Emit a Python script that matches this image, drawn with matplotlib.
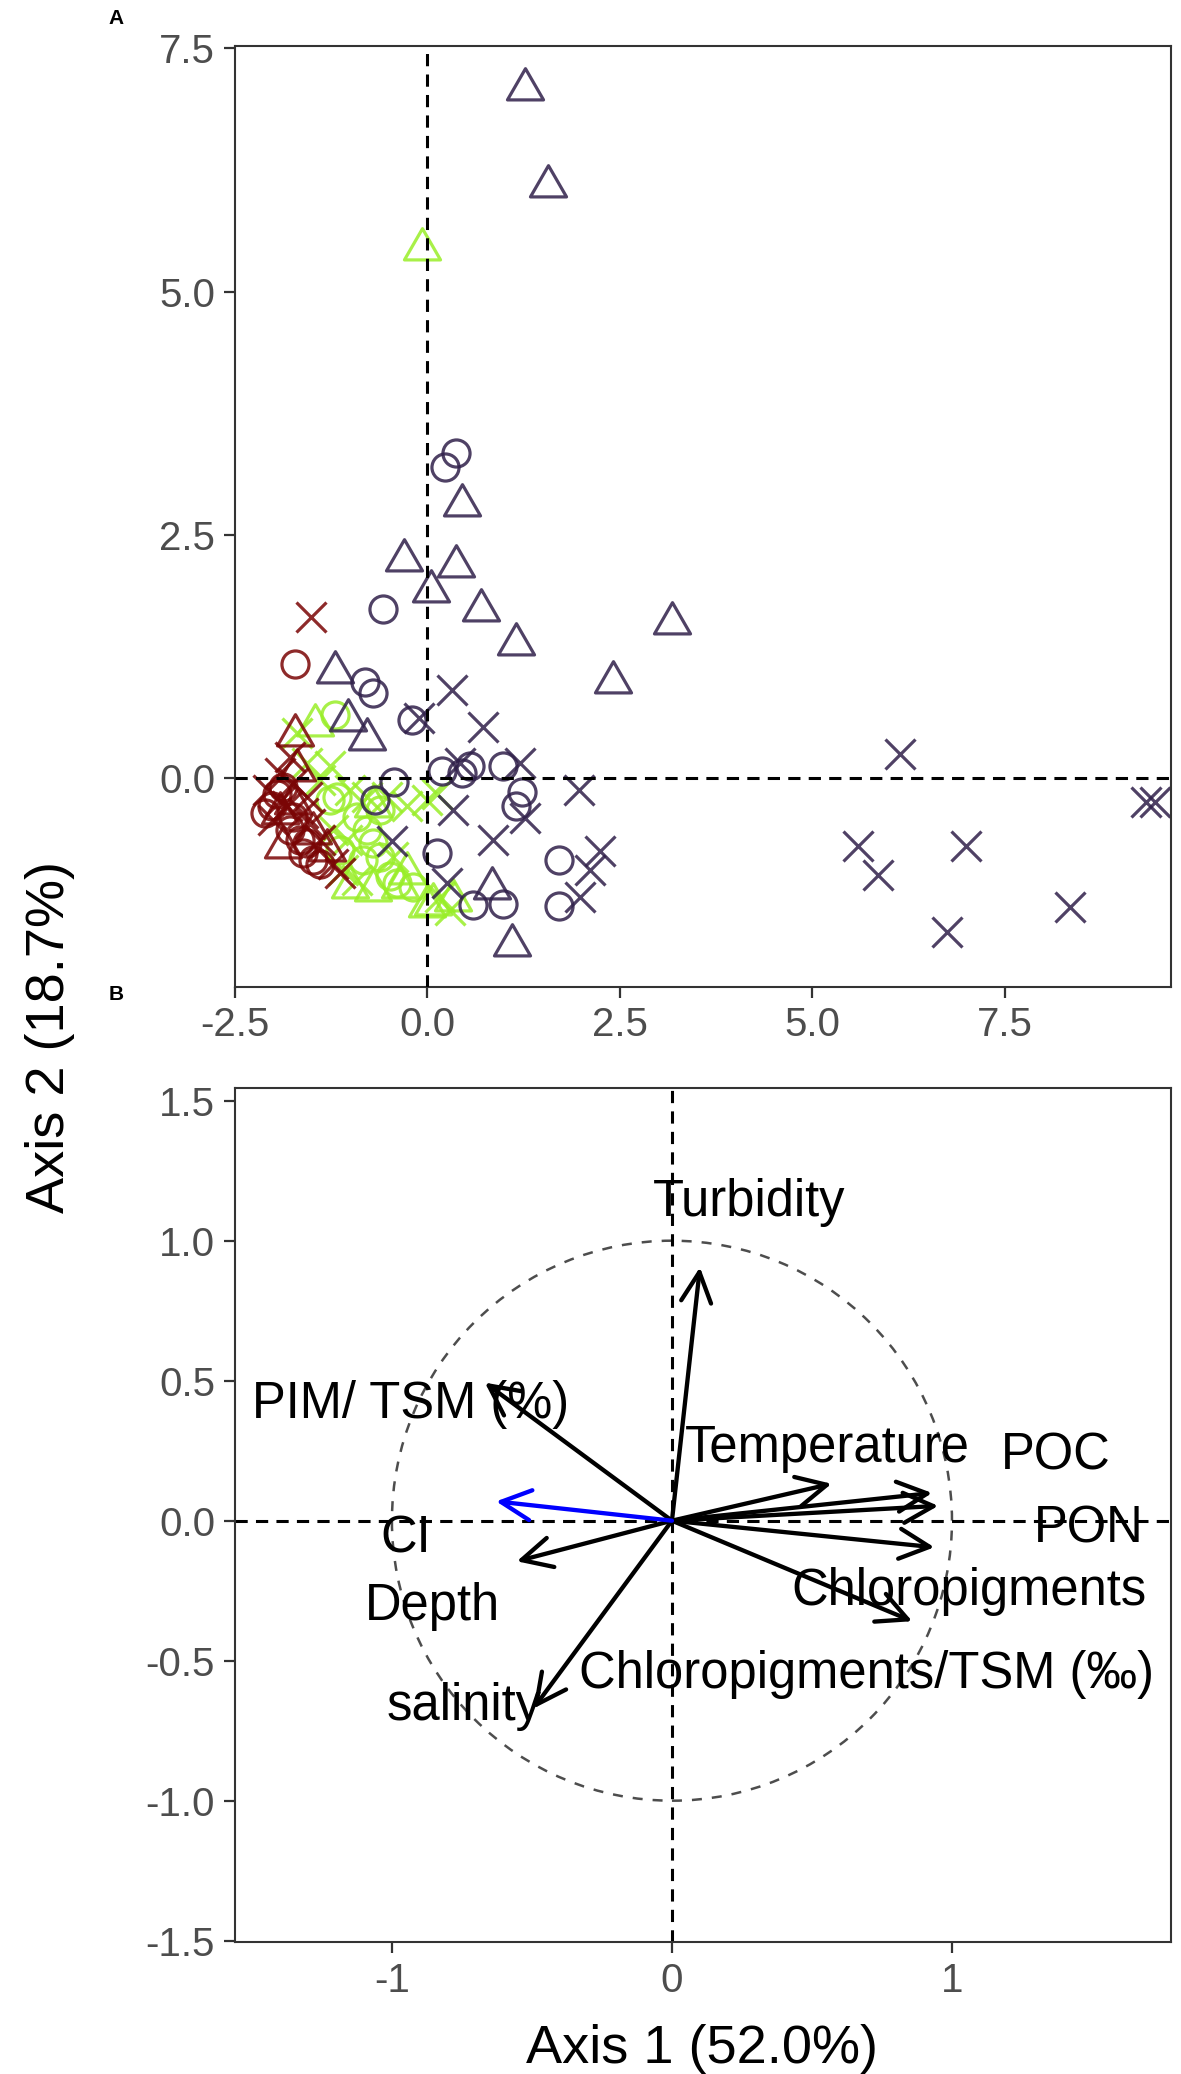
import matplotlib
matplotlib.use('Agg')
import matplotlib.pyplot as plt
from matplotlib.path import Path
from matplotlib.patches import Circle

plt.rcParams['font.family'] = ['Liberation Sans', 'DejaVu Sans']
plt.rcParams['axes.unicode_minus'] = False

# ---- panel A: sample scores (axis 1, axis 2) ----
# dark purple group
dark_tri_x = [1.27, 1.57, 0.46, -0.30, 0.38, 0.05, 0.70, 1.16, 3.18, 2.41, -1.20, -1.03, -0.78, 0.84, 1.10]
dark_tri_y = [7.08, 6.08, 2.81, 2.24, 2.18, 1.92, 1.73, 1.38, 1.59, 0.99, 1.09, 0.60, 0.40, -1.13, -1.72]
dark_circ_x = [0.38, 0.23, -0.57, -0.81, -0.70, -0.19, -0.43, -0.68, 0.19, 0.45, 0.56, 0.99, 1.23, 1.16,
               0.13, 0.60, 0.99, 1.71, 1.71]
dark_circ_y = [3.34, 3.20, 1.74, 0.99, 0.87, 0.60, -0.04, -0.23, 0.07, 0.05, 0.12, 0.12, -0.14, -0.29,
               -0.77, -1.30, -1.29, -0.84, -1.32]
dark_x_x = [0.33, 0.72, -0.11, 0.43, 1.21, 1.97, 0.34, 1.27, 0.86, -0.46, 0.26, 2.25, 2.12, 1.99,
            6.14, 5.60, 5.85, 6.75, 7.00, 8.35, 9.33, 9.45]
dark_x_y = [0.90, 0.52, 0.62, 0.15, 0.15, -0.12, -0.33, -0.41, -0.64, -0.65, -1.08, -0.75, -0.95, -1.22,
            0.25, -0.70, -1.00, -1.58, -0.70, -1.33, -0.25, -0.25]

# dark red group
red_tri_x = [-1.71, -1.91, -1.87, -1.30, -1.69, -1.48, -1.74]
red_tri_y = [0.44, -0.36, -0.71, -0.74, 0.08, -0.57, -0.26]
red_circ_x = [-1.71, -1.95, -2.02, -1.74, -1.61, -1.48, -1.65, -1.39, -2.10, -1.87, -1.78, -1.56]
red_circ_y = [1.17, -0.16, -0.29, -0.40, -0.77, -0.84, -0.64, -0.88, -0.36, -0.09, -0.53, -0.67]
red_x_x = [-1.51, -1.78, -1.91, -1.74, -1.82, -1.56, -1.39, -1.22, -1.13, -2.00, -2.06, -1.52, -1.61, -1.91]
red_x_y = [1.66, 0.22, 0.05, -0.05, -0.29, -0.19, -0.64, -0.88, -0.98, -0.43, -0.12, -0.47, -0.36, -0.24]

# light green group
green_tri_x = [-0.06, -1.45, -0.70, -1.00, -0.70, -0.26, 0.08, 0.34, 0.00, -0.35]
green_tri_y = [5.44, 0.55, -0.29, -1.12, -1.15, -0.98, -1.29, -1.25, -1.32, -1.12]
green_circ_x = [-1.19, -1.17, -0.91, -0.61, -0.78, -0.70, -0.83, -1.13, -0.48, -0.18, -0.61, -0.39, -1.26]
green_circ_y = [0.65, -0.19, -0.40, -0.33, -0.53, -0.67, -0.84, -0.74, -1.01, -1.12, -0.81, -1.08, -0.23]
green_x_x = [-1.69, -1.26, -1.56, -1.39, -1.00, -0.78, -0.52, -0.26, 0.00, -1.04, -1.22, -0.91, 0.17,
             0.30, -0.44, -1.09, 0.13]
green_x_y = [0.46, 0.12, 0.15, -0.02, -0.12, -0.19, -0.19, -0.29, -0.23, -0.64, -0.53, -1.05, -1.22,
             -1.36, -0.81, -0.95, -0.16]

# ---- panel B: variable loadings ----
var_names = ['Turbidity', 'PIM/ TSM (%)', 'Temperature', 'POC', 'PON', 'Chloropigments',
             'Chloropigments/TSM (‰)', 'Depth', 'salinity']
var_x = [0.10, -0.668, 0.570, 0.929, 0.951, 0.937, 0.858, -0.554, -0.495]
var_y = [0.905, 0.493, 0.132, 0.099, 0.053, -0.095, -0.359, -0.145, -0.671]
sup_name = 'CI'
sup_x = -0.628
sup_y = 0.069

# label anchors (centre x, baseline y)
label_text = ['Turbidity', 'PIM/ TSM (%)', 'Temperature', 'POC', 'PON', 'CI', 'Depth',
              'Chloropigments', 'Chloropigments/TSM (‰)', 'salinity']
label_x = [0.275, -0.935, 0.554, 1.37, 1.49, -0.95, -0.855, 1.06, 0.696, -0.743]
label_y = [1.089, 0.365, 0.209, 0.184, -0.079, -0.115, -0.355, -0.301, -0.597, -0.712]

dark_col = '#30204A'
red_col = '#7A0505'
green_col = '#99EE28'

tri = Path([(0, 1), (0.866, -0.5), (-0.866, -0.5), (0, 1)],
           [Path.MOVETO, Path.LINETO, Path.LINETO, Path.CLOSEPOLY])

fig = plt.figure(figsize=(11.81, 20.74), dpi=100)
axA = fig.add_axes([0.1986, 0.5241, 0.7929, 0.4537])
axB = fig.add_axes([0.1986, 0.0636, 0.7929, 0.4119])

dash = (0, (4, 2.7))


def pts(ax, x, y, marker, col, ms):
    ax.plot(x, y, ls='none', marker=marker, ms=ms, mfc='none', mec=col, mew=2.3, alpha=0.85, zorder=2)


for col, (tx, ty, cx, cy, xx, xy) in [
        (green_col, (green_tri_x, green_tri_y, green_circ_x, green_circ_y, green_x_x, green_x_y)),
        (red_col, (red_tri_x, red_tri_y, red_circ_x, red_circ_y, red_x_x, red_x_y)),
        (dark_col, (dark_tri_x, dark_tri_y, dark_circ_x, dark_circ_y, dark_x_x, dark_x_y))]:
    pts(axA, tx, ty, tri, col, 30)
    pts(axA, cx, cy, 'o', col, 19.5)
    pts(axA, xx, xy, 'x', col, 21.5)

axA.axhline(0, color='black', lw=2.2, ls=dash, zorder=3)
axA.axvline(0, color='black', lw=2.2, ls=dash, zorder=3)
axA.set_xlim(-2.5, 9.66)
axA.set_ylim(-2.148, 7.523)
axA.set_xticks([-2.5, 0, 2.5, 5, 7.5])
axA.set_xticklabels(['-2.5', '0.0', '2.5', '5.0', '7.5'])
axA.set_yticks([0, 2.5, 5, 7.5])
axA.set_yticklabels(['0.0', '2.5', '5.0', '7.5'])

# panel B
axB.add_patch(Circle((0, 0), 1, fill=False, ec='#4D4D4D', lw=1.8, ls=(0, (4, 4)), zorder=1))
axB.axhline(0, color='black', lw=2.2, ls=dash, zorder=1)
axB.axvline(0, color='black', lw=2.2, ls=dash, zorder=1)
astyle = '->,head_length=0.6,head_width=0.3'
for vx, vy in zip(var_x, var_y):
    axB.annotate('', xy=(vx, vy), xytext=(0, 0),
                 arrowprops=dict(arrowstyle=astyle, lw=3.1, color='black', shrinkA=0, shrinkB=0,
                                 mutation_scale=36), zorder=3)
axB.annotate('', xy=(sup_x, sup_y), xytext=(0, 0),
             arrowprops=dict(arrowstyle=astyle, lw=3.1, color='#0000FF', shrinkA=0, shrinkB=0,
                             mutation_scale=36), zorder=3)
for t, lx, ly in zip(label_text, label_x, label_y):
    axB.text(lx, ly, t, ha='center', va='baseline', fontsize=36.5, color='black', zorder=4)

axB.set_xlim(-1.562, 1.782)
axB.set_ylim(-1.505, 1.546)
axB.set_xticks([-1, 0, 1])
axB.set_xticklabels(['-1', '0', '1'])
axB.set_yticks([-1.5, -1.0, -0.5, 0, 0.5, 1.0, 1.5])
axB.set_yticklabels(['-1.5', '-1.0', '-0.5', '0.0', '0.5', '1.0', '1.5'])

for ax in (axA, axB):
    for s in ax.spines.values():
        s.set_color('#333333')
        s.set_linewidth(1.5)
    ax.tick_params(direction='out', length=8, width=1.6, color='#333333',
                   labelsize=29, labelcolor='#4D4D4D', pad=6)

fig.text(0.5945, 0.0053, 'Axis 1 (52.0%)', ha='center', va='baseline', fontsize=39)
fig.text(0.042, 0.5, 'Axis 2 (18.7%)', ha='center', va='center', rotation=90, fontsize=39)
fig.text(116 / 1181, 1 - 18 / 2074, 'A', ha='center', va='center', fontsize=15, weight='bold')
fig.text(116 / 1181, 1 - 995 / 2074, 'B', ha='center', va='center', fontsize=15, weight='bold')

fig.savefig('out.png', dpi=100)
